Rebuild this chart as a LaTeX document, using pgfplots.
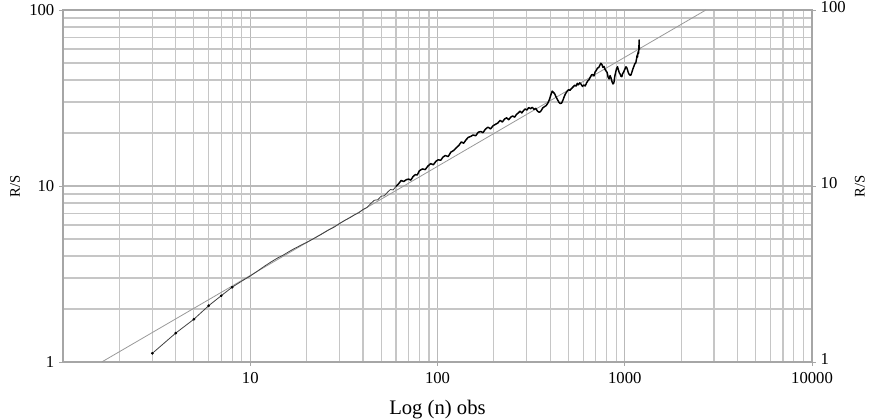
\documentclass[border=0pt]{standalone}
\usepackage{fontspec}
\setmainfont{Liberation Serif}
\usepackage{pgfplots}
\pgfplotsset{compat=1.18}

% common look of the two overlaid axes
\pgfplotsset{rsaxis/.style={
    xmin=1, xmax=10000, ymin=1, ymax=100,
    width=561.75pt, height=264pt, scale only axis,
    log ticks with fixed point,
    /pgf/number format/1000 sep={},
    /pgf/number format/assume math mode=true,
    ticklabel style={font=\fontsize{12.5}{14}\selectfont},
    label style={font=\fontsize{11}{13}\selectfont},
    tick align=outside, major tick length=3pt, minor tick length=0pt,
    tick style={gray!70, line width=0.6pt},
    axis line style={gray!70, line width=0.9pt},
}}

\begin{document}
\begin{tikzpicture}
\begin{axis}[
    name=main, xmode=log, ymode=log, rsaxis,
    xtick={10,100,1000,10000},
    ytick={1,10,100},
    minor xtick={2,3,4,5,6,7,8,9,20,30,40,50,60,70,80,90,200,300,400,500,600,700,800,900,2000,3000,4000,5000,6000,7000,8000,9000},
    minor ytick={2,3,4,5,6,7,8,9,20,30,40,50,60,70,80,90},
    grid=both,
    major grid style={gray!55, line width=0.9pt},
    minor grid style={gray!45, line width=0.9pt},
    tick pos=left,
    xticklabel style={yshift=-1pt},
    xlabel={Log (n) obs},
    xlabel style={font=\fontsize{15.5}{17}\selectfont, yshift=-6pt},
    ylabel={R/S},
]
% fitted line
\addplot[gray!80, line width=0.6pt] coordinates {(1.61,1) (2712,100)};
% observed R/S, first part (smooth)
\addplot[black!75, line width=0.6pt, line join=round] coordinates {
(3,1.12) (4,1.46) (5,1.75) (6,2.09) (7,2.38) (8,2.66) (9,2.88) (10,3.08)
(11,3.30) (12,3.52) (13,3.72) (14,3.90) (15,4.05) (16,4.22) (17,4.38) (18,4.52) (19,4.66) (20,4.78)
(22,5.05) (24,5.32) (26,5.60) (28,5.83) (30,6.12) (32,6.38) (34,6.60) (36,6.85) (38,7.05) (40,7.35)
(42,7.55) (44,7.95) (46,8.30) (48,8.35) (50,8.75) (52,8.80) (54,9.20) (56,9.55) (58,9.50) (60,9.95)
};
% observed R/S, second part (noisy)
\addplot[black, line width=1.1pt, line join=round] coordinates {
(60,9.95)
(62,10.30) (64,10.75) (66,10.60) (68,10.85) (70,10.95) (72,10.80) (74,11.30) (76,11.60) (78,11.55) (80,12.2)
(83,12.5) (86,12.4) (89,13.0) (92,13.4) (95,13.2) (98,13.8) (101,14.1) (104,14.0) (107,14.6) (110,14.9)
(114,14.7) (118,15.6) (122,15.9) (126,16.5) (130,17.0) (134,17.8) (138,17.5) (142,18.3) (146,18.9) (150,19.1)
(155,19.5) (160,19.3) (165,20.2) (170,20.4) (175,20.1) (180,21.0) (186,21.6) (192,21.1) (198,22.0) (204,22.4)
(210,22.8) (216,23.6) (222,23.1) (228,24.0) (234,24.4) (240,23.8) (246,24.6) (252,25.0) (258,24.6) (264,25.5)
(270,26.0) (276,26.6) (282,26.0) (288,26.8) (294,27.4) (300,27.0) (307,27.9) (314,27.5) (321,28.0) (328,27.2)
(335,27.6) (342,26.6) (350,26.2) (358,26.8) (365,27.8) (372,28.2) (380,28.6) (388,29.5) (396,31.0) (404,33.2)
(410,34.6) (416,34.0) (422,33.5) (430,32.0) (437,31.0) (444,30.0) (452,29.4) (460,29.6) (468,30.8) (476,32.4)
(484,33.6) (492,34.5) (500,35.2) (510,35.0) (520,35.8) (530,36.6) (540,37.4) (550,37.0) (558,38.3) (566,37.6)
(575,38.6) (585,37.8) (595,36.8) (605,37.5) (615,37.0) (625,38.5) (635,39.6) (645,40.2) (655,41.6) (665,42.8)
(675,43.0) (685,42.2) (695,44.5) (705,45.4) (715,46.8) (725,47.0) (735,48.4) (745,49.8) (755,49.0) (765,47.2)
(775,47.8) (785,46.0) (795,45.0) (805,44.2) (815,41.5) (825,40.6) (835,42.4) (845,41.0) (855,39.2) (865,38.0)
(875,38.6) (885,42.0) (895,44.5) (905,46.5) (915,47.6) (925,45.6) (935,44.0) (945,43.2) (955,42.0) (965,41.8)
(975,43.6) (985,44.2) (995,45.4) (1005,46.5) (1015,47.6) (1025,47.0) (1035,45.6) (1045,44.0) (1055,43.2) (1065,42.7)
(1075,42.5) (1085,43.4) (1095,44.8) (1105,46.2) (1115,47.4) (1125,48.6) (1135,49.8) (1145,50.0) (1155,52.5) (1165,55.5)
(1170,54.0) (1175,56.5) (1180,58.0) (1185,56.8) (1190,60.5) (1193,67.6) (1195,62.0) (1197,59.5)
};
% point markers on the first observations
\addplot[only marks, mark=*, mark size=0.8pt, black] coordinates {
(3,1.12) (4,1.46) (5,1.75) (6,2.09) (7,2.38) (8,2.66)
};
\end{axis}
\begin{axis}[
    xmode=log, ymode=log, rsaxis,
    axis x line=none,
    axis y line*=right,
    ytick={1,10,100},
    yticklabel style={yshift=2pt},
    ylabel={R/S},
]
\addplot[draw=none] coordinates {(10,10)};
\end{axis}
\pgfresetboundingbox
\path[use as bounding box] ([shift={(-47.25pt,-43.5pt)}]main.south west)
    rectangle ([shift={(607.5pt,271.5pt)}]main.south west);
\end{tikzpicture}
\end{document}
